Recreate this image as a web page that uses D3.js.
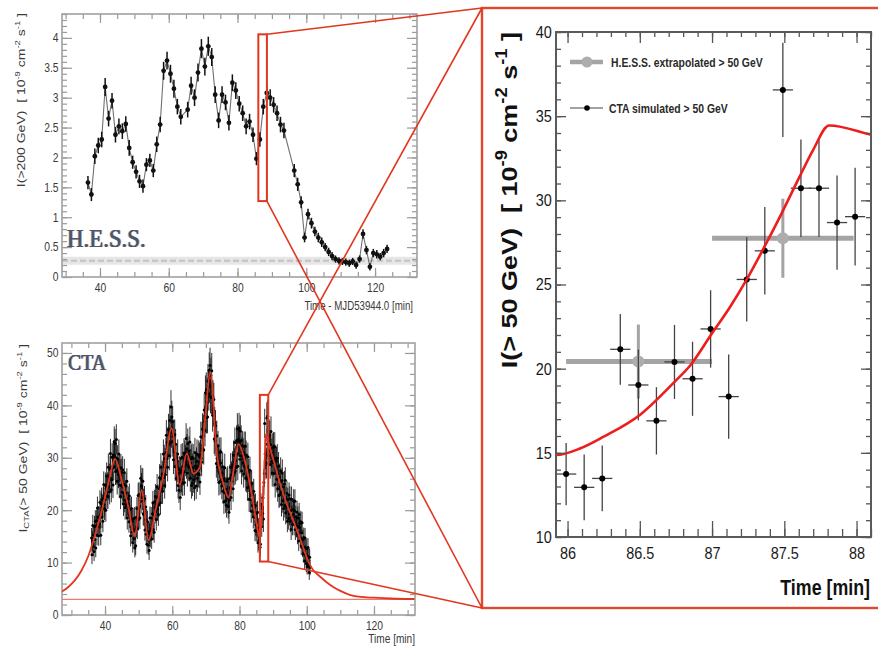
<!DOCTYPE html>
<html>
<head>
<meta charset="utf-8">
<title>Flare light curves: H.E.S.S. and simulated CTA</title>
<script src="https://cdn.jsdelivr.net/npm/d3@7/dist/d3.min.js"></script>
<style>
  html, body { margin: 0; padding: 0; background: #fff; }
  svg { display: block; }
  text { white-space: pre; }
</style>
</head>
<body>
<svg id="fig" width="878" height="647"></svg>
<script>
// ---------------------------------------------------------------
// H.E.S.S. light curve, 1-minute bins, I(>200 GeV) [1e-9 cm^-2 s^-1]
// ---------------------------------------------------------------
const hessTime = [
  36.5, 37.5, 38.5, 39.5, 40.5, 41.5, 42.5, 43.5, 44.5, 45.5, 46.5, 47.5, 48.5, 49.5,
  50.5, 51.5, 52.5, 53.5, 54.5, 55.5, 56.5, 57.5, 58.5, 59.5, 60.5, 61.5, 62.5, 63.5,
  65.5, 66.5, 67.5, 68.5, 69.5, 70.5, 71.5, 72.5, 73.5, 74.5, 75.5, 76.5, 77.5, 78.5, 79.5,
  80.5, 81.5, 82.5, 83.5, 84.5, 85.5, 86.5, 87.5, 88.5, 89.5, 90.5, 91.5, 92.5, 93.5,
  96.5, 97.5, 98.5, 99.5, 100.5, 101.5, 102.5, 103.5, 104.5, 105.5, 106.5, 107.5, 108.5, 109.5,
  110.5, 111.5, 112.5, 113.5, 114.5, 115.5, 116.5, 117.5, 118.5, 119.5, 120.5, 121.5, 122.5, 123.5
];
const hessFlux = [
  1.58, 1.38, 2.02, 2.20, 2.30, 3.18, 2.65, 2.95, 2.38, 2.52, 2.44, 2.56, 2.16, 1.92,
  1.76, 1.60, 1.52, 1.88, 1.95, 1.78, 2.22, 2.55, 3.45, 3.62, 3.40, 3.15, 2.85, 2.68,
  2.80, 3.20, 3.00, 3.42, 3.82, 3.52, 3.86, 3.68, 3.05, 2.62, 3.05, 2.92, 2.58, 3.25, 3.12,
  2.90, 2.74, 2.52, 2.60, 2.38, 1.98, 2.30, 2.85, 3.08, 3.00, 2.88, 2.74, 2.55, 2.45,
  1.78, 1.55, 1.25, 0.66, 1.05, 0.90, 0.76, 0.66, 0.58, 0.50, 0.42, 0.35, 0.30, 0.27,
  0.26, 0.25, 0.23, 0.26, 0.20, 0.30, 0.72, 0.45, 0.17, 0.40, 0.38, 0.34, 0.40, 0.47
];
const hessErr = [
  0.11, 0.11, 0.13, 0.13, 0.13, 0.15, 0.13, 0.13, 0.13, 0.13, 0.13, 0.13, 0.13, 0.11,
  0.11, 0.11, 0.11, 0.11, 0.11, 0.11, 0.13, 0.13, 0.15, 0.15, 0.15, 0.15, 0.13, 0.13,
  0.13, 0.15, 0.14, 0.15, 0.16, 0.15, 0.16, 0.15, 0.14, 0.13, 0.14, 0.13, 0.13, 0.14, 0.14,
  0.13, 0.13, 0.13, 0.13, 0.12, 0.11, 0.12, 0.13, 0.14, 0.14, 0.13, 0.13, 0.13, 0.13,
  0.11, 0.11, 0.10, 0.08, 0.09, 0.09, 0.08, 0.08, 0.08, 0.07, 0.07, 0.07, 0.06, 0.06,
  0.06, 0.06, 0.06, 0.06, 0.06, 0.06, 0.08, 0.07, 0.06, 0.07, 0.07, 0.06, 0.07, 0.07
];
const hessHalfBin = 0.5;
const hessBaseline = 0.27;

// ---------------------------------------------------------------
// Simulated CTA light curve, 7.5 s bins, I(>50 GeV) [1e-9 cm^-2 s^-1]
// one row per minute (8 bins), rows start at 35.99, 36.99, ...
// ---------------------------------------------------------------
const ctaStart = 35.99;
const ctaBin = 0.125;
const ctaXErr = 0.07;
const ctaFluxRows = [
  [14.7, 11.5, 14.1, 17.1, 13.1, 15.2, 12.1, 16.9],
  [14.4, 17.9, 12.8, 17.0, 18.0, 15.2, 20.4, 17.0],
  [18.7, 15.1, 18.6, 17.4, 21.5, 18.6, 15.2, 21.2],
  [22.0, 18.7, 20.8, 17.9, 22.2, 24.9, 21.1, 20.3],
  [22.0, 24.7, 20.0, 24.3, 26.5, 22.7, 24.7, 22.6],
  [28.2, 24.4, 26.4, 23.5, 27.8, 30.8, 26.0, 23.9],
  [25.8, 30.1, 28.2, 24.8, 30.5, 28.3, 33.1, 30.4],
  [32.7, 27.4, 30.0, 33.5, 27.5, 25.5, 29.7, 27.6],
  [26.8, 30.7, 24.8, 28.0, 27.1, 22.6, 28.1, 24.7],
  [27.2, 23.4, 27.7, 24.4, 21.2, 24.9, 27.2, 21.9],
  [20.5, 23.3, 24.6, 21.0, 25.5, 18.5, 21.3, 22.2],
  [21.2, 17.8, 22.7, 18.8, 20.2, 15.1, 18.3, 20.3],
  [15.8, 18.0, 13.8, 18.3, 16.0, 14.6, 18.5, 12.8],
  [16.3, 13.2, 18.6, 16.8, 20.3, 16.5, 18.6, 22.8],
  [18.2, 23.0, 20.8, 18.5, 22.7, 26.1, 21.7, 24.6],
  [25.6, 22.4, 25.5, 19.3, 21.8, 19.1, 22.2, 16.2],
  [18.3, 20.6, 15.4, 18.1, 13.5, 17.8, 15.9, 13.3],
  [15.9, 12.3, 15.5, 18.5, 14.8, 16.1, 18.5, 14.5],
  [16.3, 19.3, 21.4, 16.3, 19.1, 15.8, 21.6, 20.5],
  [22.6, 19.7, 18.2, 22.4, 24.4, 20.2, 22.5, 19.2],
  [21.0, 24.1, 26.2, 23.5, 21.4, 28.2, 26.0, 24.1],
  [26.9, 23.6, 26.7, 30.7, 26.3, 29.8, 24.7, 29.2],
  [26.8, 31.0, 34.3, 29.8, 32.9, 28.2, 32.6, 35.4],
  [33.1, 30.4, 37.1, 35.1, 32.8, 39.7, 34.8, 37.8],
  [33.1, 36.9, 34.1, 29.6, 34.4, 31.1, 34.4, 28.3],
  [32.6, 28.4, 26.1, 30.0, 28.1, 30.7, 24.7, 27.0],
  [23.8, 27.7, 25.7, 22.4, 27.2, 29.9, 25.9, 25.3],
  [30.1, 25.2, 28.4, 27.3, 30.9, 25.3, 30.5, 29.8],
  [29.2, 33.7, 28.7, 31.7, 27.1, 32.7, 30.3, 28.3],
  [31.3, 28.2, 33.0, 26.1, 29.0, 29.8, 24.7, 30.1],
  [25.2, 28.1, 29.9, 25.8, 27.2, 24.3, 31.0, 28.4],
  [27.9, 24.6, 29.3, 30.7, 26.1, 28.0, 27.0, 30.5],
  [26.8, 30.2, 25.4, 30.6, 34.0, 29.9, 29.2, 33.9],
  [35.5, 31.7, 35.2, 31.5, 39.1, 36.9, 35.2, 42.4],
  [37.8, 43.0, 37.7, 42.1, 37.8, 44.6, 43.6, 42.2],
  [46.7, 43.8, 47.6, 41.7, 45.7, 41.5, 46.6, 41.5],
  [38.1, 41.6, 39.1, 41.1, 33.6, 36.7, 33.2, 36.1],
  [34.1, 28.9, 34.2, 29.9, 28.2, 32.3, 29.5, 25.3],
  [28.7, 31.1, 25.5, 29.0, 31.1, 25.9, 24.6, 27.1],
  [28.3, 23.6, 25.6, 21.6, 26.0, 28.1, 23.3, 21.8],
  [24.0, 20.9, 25.5, 22.3, 25.9, 20.7, 23.3, 19.6],
  [21.9, 26.1, 24.3, 28.2, 22.4, 26.7, 25.5, 28.3],
  [28.6, 24.1, 30.5, 27.3, 29.1, 32.9, 27.5, 29.5],
  [28.2, 33.3, 30.7, 35.5, 28.4, 33.5, 33.1, 35.6],
  [33.1, 29.7, 35.1, 30.4, 33.3, 27.5, 31.2, 32.3],
  [29.0, 30.9, 26.9, 32.2, 29.8, 28.4, 32.2, 26.2],
  [30.5, 26.0, 28.1, 24.3, 30.2, 26.1, 27.2, 22.1],
  [24.5, 27.6, 22.0, 25.0, 19.8, 25.1, 23.0, 20.9],
  [23.1, 18.7, 23.6, 19.7, 20.6, 16.1, 20.9, 17.2],
  [16.0, 19.4, 16.8, 19.6, 13.8, 16.5, 14.2, 16.3],
  [13.74, 12.95, 13.48, 21.15, 19.03, 16.9, 20.4, 19.4],
  [22.36, 18.34, 25.3, 27.0, 36.56, 30.72, 30.72, 28.68],
  [29.03, 37.6, 32.6, 37.9, 33.2, 30.4, 34.5, 31.3],
  [34.2, 28.7, 32.5, 35.0, 29.3, 30.9, 27.1, 31.9],
  [29.1, 32.1, 27.0, 29.9, 32.1, 24.9, 29.6, 27.7],
  [29.4, 25.9, 29.9, 24.1, 26.9, 28.4, 22.8, 26.3],
  [23.0, 25.4, 27.5, 23.5, 21.1, 25.6, 27.1, 21.8],
  [24.4, 20.3, 22.7, 25.0, 20.9, 25.7, 19.5, 22.1],
  [20.5, 23.2, 17.9, 22.0, 20.7, 18.4, 22.9, 19.3],
  [22.2, 17.9, 19.9, 16.3, 22.1, 18.7, 17.3, 20.1],
  [19.2, 21.7, 17.3, 19.9, 21.7, 16.3, 18.7, 17.0],
  [16.9, 19.6, 15.5, 18.5, 16.9, 14.1, 19.2, 16.7],
  [17.5, 14.6, 17.8, 13.2, 15.7, 17.6, 12.9, 14.4],
  [11.7, 14.8, 12.9, 10.3, 14.7, 11.6, 12.8, 9.8],
  [12.7, 9.2, 11.2, 12.9, 9.4, 11.0, 8.1, 11.0],
  [9.1]
];
const ctaErrRows = [
  [1.9, 1.8, 1.9, 2.0, 1.9, 1.9, 1.8, 2.0],
  [1.9, 2.1, 1.8, 2.0, 2.1, 1.9, 2.2, 2.0],
  [2.1, 1.9, 2.1, 2.0, 2.3, 2.1, 1.9, 2.2],
  [2.3, 2.1, 2.2, 2.1, 2.3, 2.5, 2.3, 2.2],
  [2.3, 2.5, 2.2, 2.4, 2.6, 2.4, 2.5, 2.4],
  [2.6, 2.5, 2.5, 2.4, 2.6, 2.8, 2.5, 2.4],
  [2.5, 2.7, 2.6, 2.5, 2.7, 2.6, 2.9, 2.7],
  [2.8, 2.6, 2.7, 2.9, 2.6, 2.5, 2.7, 2.6],
  [2.6, 2.8, 2.5, 2.6, 2.6, 2.4, 2.6, 2.5],
  [2.6, 2.4, 2.6, 2.5, 2.3, 2.5, 2.6, 2.3],
  [2.3, 2.4, 2.5, 2.3, 2.5, 2.2, 2.3, 2.3],
  [2.3, 2.1, 2.4, 2.2, 2.2, 2.0, 2.1, 2.3],
  [2.0, 2.1, 1.9, 2.1, 2.0, 1.9, 2.1, 1.8],
  [2.0, 1.8, 2.2, 2.0, 2.2, 2.0, 2.1, 2.4],
  [2.1, 2.4, 2.3, 2.1, 2.4, 2.5, 2.3, 2.5],
  [2.5, 2.4, 2.5, 2.2, 2.3, 2.2, 2.4, 2.0],
  [2.1, 2.3, 2.0, 2.1, 1.8, 2.1, 2.0, 1.8],
  [2.0, 1.8, 2.0, 2.2, 1.9, 2.0, 2.1, 1.9],
  [2.0, 2.2, 2.3, 2.0, 2.2, 2.0, 2.3, 2.3],
  [2.4, 2.2, 2.1, 2.4, 2.5, 2.2, 2.4, 2.2],
  [2.3, 2.5, 2.6, 2.4, 2.3, 2.7, 2.6, 2.5],
  [2.6, 2.4, 2.6, 2.8, 2.6, 2.7, 2.5, 2.7],
  [2.6, 2.8, 2.9, 2.7, 2.9, 2.7, 2.9, 3.0],
  [2.9, 2.8, 3.0, 3.0, 2.9, 3.2, 2.9, 3.1],
  [2.9, 3.0, 2.9, 2.7, 2.9, 2.8, 2.9, 2.7],
  [2.9, 2.7, 2.6, 2.7, 2.7, 2.8, 2.5, 2.6],
  [2.4, 2.6, 2.5, 2.4, 2.6, 2.7, 2.5, 2.5],
  [2.7, 2.5, 2.7, 2.6, 2.8, 2.5, 2.8, 2.7],
  [2.7, 2.9, 2.7, 2.8, 2.6, 2.9, 2.8, 2.7],
  [2.8, 2.7, 2.9, 2.6, 2.7, 2.7, 2.5, 2.7],
  [2.5, 2.7, 2.7, 2.5, 2.6, 2.5, 2.8, 2.7],
  [2.6, 2.5, 2.7, 2.8, 2.6, 2.6, 2.6, 2.8],
  [2.6, 2.7, 2.5, 2.8, 2.9, 2.7, 2.7, 2.9],
  [3.0, 2.8, 3.0, 2.8, 3.1, 3.0, 3.0, 3.3],
  [3.1, 3.3, 3.1, 3.2, 3.1, 3.3, 3.3, 3.2],
  [3.4, 3.3, 3.4, 3.2, 3.4, 3.2, 3.4, 3.2],
  [3.1, 3.2, 3.1, 3.2, 2.9, 3.0, 2.9, 3.0],
  [2.9, 2.7, 2.9, 2.7, 2.7, 2.8, 2.7, 2.5],
  [2.7, 2.8, 2.5, 2.7, 2.8, 2.5, 2.5, 2.6],
  [2.7, 2.4, 2.5, 2.3, 2.5, 2.7, 2.4, 2.3],
  [2.4, 2.3, 2.5, 2.4, 2.5, 2.3, 2.4, 2.2],
  [2.3, 2.6, 2.5, 2.7, 2.4, 2.6, 2.5, 2.7],
  [2.7, 2.5, 2.8, 2.6, 2.7, 2.9, 2.6, 2.7],
  [2.7, 2.9, 2.8, 3.0, 2.7, 2.9, 2.9, 3.0],
  [2.9, 2.7, 3.0, 2.8, 2.9, 2.6, 2.8, 2.8],
  [2.7, 2.8, 2.6, 2.8, 2.7, 2.7, 2.8, 2.6],
  [2.8, 2.6, 2.7, 2.5, 2.7, 2.6, 2.6, 2.4],
  [2.5, 2.6, 2.3, 2.5, 2.2, 2.5, 2.4, 2.3],
  [2.4, 2.2, 2.4, 2.2, 2.3, 2.0, 2.3, 2.1],
  [2.0, 2.2, 2.0, 2.2, 1.9, 2.0, 1.9, 2.0],
  [1.85, 1.95, 1.95, 2.1, 2.1, 2.0, 2.2, 2.2],
  [2.3, 2.5, 2.5, 2.6, 2.8, 2.9, 2.9, 2.8],
  [2.9, 3.0, 2.9, 3.1, 2.9, 2.8, 2.9, 2.8],
  [2.9, 2.7, 2.8, 2.9, 2.7, 2.8, 2.6, 2.8],
  [2.7, 2.8, 2.6, 2.7, 2.8, 2.5, 2.7, 2.6],
  [2.7, 2.5, 2.7, 2.5, 2.6, 2.7, 2.4, 2.6],
  [2.4, 2.5, 2.6, 2.4, 2.3, 2.5, 2.6, 2.3],
  [2.5, 2.3, 2.4, 2.5, 2.3, 2.5, 2.2, 2.4],
  [2.3, 2.4, 2.1, 2.3, 2.3, 2.1, 2.4, 2.2],
  [2.4, 2.1, 2.2, 2.0, 2.4, 2.2, 2.1, 2.2],
  [2.2, 2.3, 2.1, 2.2, 2.3, 2.0, 2.2, 2.1],
  [2.1, 2.2, 2.0, 2.2, 2.1, 1.9, 2.2, 2.0],
  [2.1, 1.9, 2.1, 1.8, 2.0, 2.1, 1.8, 1.9],
  [1.7, 1.9, 1.8, 1.6, 1.9, 1.7, 1.8, 1.6],
  [1.8, 1.5, 1.7, 1.8, 1.5, 1.7, 1.4, 1.7],
  [1.5]
];

// Flare model for I(>50 GeV) and its steady baseline
const modelTime = [
  27, 29, 31, 33, 35, 37, 39, 41, 43, 45, 47, 48.8, 50.9, 52.9, 55.2, 57.3, 59.8, 62.2,
  64.3, 66.3, 68.2, 69.8, 71.3, 73.2, 75.0, 76.7, 78.2, 79.7, 81.6, 83.6, 85.2,
  85.92, 86.09, 86.25, 86.5, 86.73, 86.85, 87.0, 87.12, 87.24, 87.36, 87.48, 87.6, 87.7,
  87.81, 88.1, 90, 92, 94, 96, 98, 100, 101, 102, 104, 106, 108, 110, 113, 116, 120, 125, 132
];
const modelFlux = [
  4.4, 5.3, 6.6, 8.5, 11.2, 15.2, 19.8, 25.2, 29.8, 25.6, 20.4, 15.0, 23.8, 14.3, 20.5, 26.5, 35.6, 24.8,
  30.8, 27.0, 28.2, 37.5, 46.4, 31.0, 25.5, 22.4, 27.5, 32.6, 29.4, 23.2, 17.0,
  14.87, 15.27, 15.96, 17.25, 19.13, 20.2, 22.1, 23.6, 25.3, 27.2, 29.2, 31.3, 33.0,
  34.45, 33.9, 29.8, 25.2, 21.3, 18.0, 14.6, 11.0, 9.5, 8.5, 7.3, 6.2, 5.3, 4.6, 3.8, 3.45, 3.3, 3.15, 3.05
];
const ctaBaseline = 3.0;

// H.E.S.S. points extrapolated above 50 GeV
const extrapTime = [86.49, 87.49];
const extrapFrom = [85.99, 87.0];
const extrapTo   = [87.0, 87.98];
const extrapFlux = [20.42, 27.75];
const extrapErr  = [2.2, 2.35];

// zoomed time window marked on both light curves
const boxTime = [86.05, 88.55];
const hessBoxFlux = [1.27, 4.06];
const ctaBoxFlux = [10.2, 42.0];

// tick labels
const hessXTicks = [40, 60, 80, 100, 120];
const hessYTicks = [0, 0.5, 1, 1.5, 2, 2.5, 3, 3.5, 4];
const ctaXTicks  = [40, 60, 80, 100, 120];
const ctaYTicks  = [0, 10, 20, 30, 40, 50];
const zoomXTicks = [86, 86.5, 87, 87.5, 88];
const zoomYTicks = [10, 15, 20, 25, 30, 35, 40];

// ---------------------------------------------------------------
const ctaFlux = ctaFluxRows.flat();
const ctaErr = ctaErrRows.flat();
const ctaTime = ctaFlux.map((_, i) => ctaStart + i * ctaBin);

const svg = d3.select("#fig");
const SANS = "'Liberation Sans', Arial, Helvetica, sans-serif";
const SERIF = "'Liberation Serif', 'DejaVu Serif', Times, serif";
const RED = "#e3361f";

// coloured fringes for the experiment names
const defs = svg.append("defs");
const fr = defs.append("filter").attr("id", "fringe")
  .attr("x", "-10%").attr("y", "-20%").attr("width", "120%").attr("height", "140%");
fr.append("feDropShadow").attr("dx", -1.2).attr("dy", 0).attr("stdDeviation", 0.3)
  .attr("flood-color", "#e0a050").attr("flood-opacity", 0.8).attr("result", "a");
fr.append("feDropShadow").attr("in", "SourceGraphic").attr("dx", 1.2).attr("dy", 0).attr("stdDeviation", 0.3)
  .attr("flood-color", "#5a9ad6").attr("flood-opacity", 0.8).attr("result", "b");
const fm = fr.append("feMerge");
fm.append("feMergeNode").attr("in", "a");
fm.append("feMergeNode").attr("in", "b");
fm.append("feMergeNode").attr("in", "SourceGraphic");

// text with sub/superscript pieces; sx/sy squeeze the glyphs
function richText(g, x, y, parts, o) {
  const t = g.append("text")
    .attr("transform", `translate(${x},${y}) rotate(${o.rot || 0}) scale(${o.sx || 1},${o.sy || 1})`)
    .attr("font-family", o.family || SANS)
    .attr("font-size", o.size)
    .attr("font-weight", o.weight || "normal")
    .attr("fill", o.fill || "#000")
    .attr("text-anchor", o.anchor || "start");
  if (o.filter) t.attr("filter", o.filter);
  let shift = 0;
  parts.forEach(p => {
    const [s, kind] = Array.isArray(p) ? p : [p, ""];
    const target = kind === "sup" ? -0.42 * o.size : kind === "sub" ? 0.22 * o.size : 0;
    t.append("tspan")
      .attr("dy", target - shift)
      .attr("font-size", kind ? o.size * 0.68 : o.size)
      .text(s);
    shift = target;
  });
  return t;
}

function stepValues(scale, step) {
  const [a, b] = scale.domain();
  return d3.range(Math.ceil(a / step - 1e-6) * step, b + 1e-9, step).map(v => +v.toFixed(4));
}

// frame plus inward ticks on all four sides, labels on left/bottom
function frameAxes(g, x, y, o) {
  const [x0, x1] = x.range();
  const [yb, yt] = y.range();
  const style = (sel, labelled) => {
    sel.select(".domain").remove();
    sel.selectAll(".tick line").attr("stroke", o.tickColor).attr("stroke-width", o.tickWidth);
    if (labelled) {
      sel.selectAll(".tick text")
        .attr("font-family", SANS).attr("font-size", o.fontSize)
        .attr("fill", o.labelColor).attr("transform", `scale(${o.sx},1)`);
    } else {
      sel.selectAll(".tick text").remove();
    }
  };
  const xMinor = stepValues(x, o.xMinor), yMinor = stepValues(y, o.yMinor);
  // bottom
  g.append("g").attr("transform", `translate(0,${yb})`)
    .call(d3.axisBottom(x).tickValues(xMinor).tickSize(-o.xLen[1])).call(s => style(s, false));
  g.append("g").attr("transform", `translate(0,${yb})`)
    .call(d3.axisBottom(x).tickValues(o.xTicks).tickSize(-o.xLen[0]).tickPadding(o.xPad).tickFormat(o.fmtX))
    .call(s => style(s, true));
  // top
  g.append("g").attr("transform", `translate(0,${yt})`)
    .call(d3.axisTop(x).tickValues(xMinor).tickSize(-o.topLen[1])).call(s => style(s, false));
  g.append("g").attr("transform", `translate(0,${yt})`)
    .call(d3.axisTop(x).tickValues(o.xTicks).tickSize(-o.topLen[0])).call(s => style(s, false));
  // left
  g.append("g").attr("transform", `translate(${x0},0)`)
    .call(d3.axisLeft(y).tickValues(yMinor).tickSize(-o.yLen[1])).call(s => style(s, false));
  g.append("g").attr("transform", `translate(${x0},0)`)
    .call(d3.axisLeft(y).tickValues(o.yTicks).tickSize(-o.yLen[0]).tickPadding(o.yPad).tickFormat(o.fmtY))
    .call(s => style(s, true));
  // right
  g.append("g").attr("transform", `translate(${x1},0)`)
    .call(d3.axisRight(y).tickValues(yMinor).tickSize(-o.yLen[1])).call(s => style(s, false));
  g.append("g").attr("transform", `translate(${x1},0)`)
    .call(d3.axisRight(y).tickValues(o.yTicks).tickSize(-o.yLen[0])).call(s => style(s, false));
  // frame
  g.append("rect")
    .attr("x", x0).attr("y", yt).attr("width", x1 - x0).attr("height", yb - yt)
    .attr("fill", "none").attr("stroke", o.frameColor).attr("stroke-width", o.frameWidth);
}

const fmt = d3.format("~g");

// ================= H.E.S.S. panel =================
const xH = d3.scaleLinear().domain([28.95, 132.2]).range([62, 417]);
const yH = d3.scaleLinear().domain([0, 4.4]).range([277, 14]);
const gH = svg.append("g");

gH.append("line")
  .attr("x1", xH.range()[0]).attr("x2", xH.range()[1])
  .attr("y1", yH(hessBaseline)).attr("y2", yH(hessBaseline))
  .attr("stroke", "#e6e6e6").attr("stroke-width", 8);
gH.append("line")
  .attr("x1", xH.range()[0]).attr("x2", xH.range()[1])
  .attr("y1", yH(hessBaseline)).attr("y2", yH(hessBaseline))
  .attr("stroke", "#c8c8c8").attr("stroke-width", 2.5).attr("stroke-dasharray", "6,3");

frameAxes(gH, xH, yH, {
  xTicks: hessXTicks, yTicks: hessYTicks, xMinor: 5, yMinor: 0.1,
  xLen: [9, 5], topLen: [9, 5], yLen: [10, 5], xPad: 6, yPad: 4,
  fmtX: fmt, fmtY: fmt, fontSize: 12, sx: 0.86, labelColor: "#3a3a3a",
  tickColor: "#9a9a9a", tickWidth: 1.2, frameColor: "#a0a0a0", frameWidth: 1.6
});

const hessPts = hessTime.map((t, i) => ({ t, f: hessFlux[i], e: hessErr[i] }));
gH.append("path").datum(hessPts)
  .attr("fill", "none").attr("stroke", "#707070").attr("stroke-width", 1.1)
  .attr("d", d3.line().x(d => xH(d.t)).y(d => yH(d.f)));
const hp = gH.append("g").selectAll("g").data(hessPts).join("g");
hp.append("line")
  .attr("x1", d => xH(d.t)).attr("x2", d => xH(d.t))
  .attr("y1", d => yH(d.f - d.e)).attr("y2", d => yH(d.f + d.e))
  .attr("stroke", "#111").attr("stroke-width", 1.5);
hp.append("line")
  .attr("x1", d => xH(d.t - hessHalfBin)).attr("x2", d => xH(d.t + hessHalfBin))
  .attr("y1", d => yH(d.f)).attr("y2", d => yH(d.f))
  .attr("stroke", "#111").attr("stroke-width", 1.5);
hp.append("circle")
  .attr("cx", d => xH(d.t)).attr("cy", d => yH(d.f)).attr("r", 2.4).attr("fill", "#111");

richText(gH, 67, 247, ["H.E.S.S."], { size: 26, family: SERIF, sx: 0.88, fill: "#4e566c", filter: "url(#fringe)" });

richText(gH, 25, 13, ["I(>200 GeV)  [ 10", ["-9", "sup"], " cm", ["-2", "sup"], " s", ["-1", "sup"], " ]"],
  { size: 14, rot: -90, sy: 0.8, anchor: "end", fill: "#3a3a3a" });
richText(gH, 413, 310, ["Time - MJD53944.0 [min]"],
  { size: 12, sx: 0.81, anchor: "end", fill: "#3a3a3a" });

// ================= CTA panel =================
const xC = d3.scaleLinear().domain([27.2, 132.2]).range([62, 415]);
const yC = d3.scaleLinear().domain([0, 51.9]).range([615, 343]);
const gC = svg.append("g");

frameAxes(gC, xC, yC, {
  xTicks: ctaXTicks, yTicks: ctaYTicks, xMinor: 5, yMinor: 2,
  xLen: [9, 5], topLen: [9, 5], yLen: [10, 5], xPad: 6, yPad: 4,
  fmtX: fmt, fmtY: fmt, fontSize: 12, sx: 0.86, labelColor: "#3a3a3a",
  tickColor: "#9a9a9a", tickWidth: 1.2, frameColor: "#a0a0a0", frameWidth: 1.6
});

svg.append("clipPath").attr("id", "clipC").append("rect")
  .attr("x", 62).attr("y", 343).attr("width", 353).attr("height", 272);

const ctaPts = ctaTime.map((t, i) => ({ t, f: ctaFlux[i], e: ctaErr[i] }));
const cp = gC.append("g");
cp.selectAll("line.v").data(ctaPts).join("line").attr("class", "v")
  .attr("x1", d => xC(d.t)).attr("x2", d => xC(d.t))
  .attr("y1", d => yC(d.f - d.e)).attr("y2", d => yC(d.f + d.e))
  .attr("stroke", "#000").attr("stroke-opacity", 0.8).attr("stroke-width", 1);
cp.selectAll("line.h").data(ctaPts).join("line").attr("class", "h")
  .attr("x1", d => xC(d.t - ctaXErr)).attr("x2", d => xC(d.t + ctaXErr))
  .attr("y1", d => yC(d.f)).attr("y2", d => yC(d.f))
  .attr("stroke", "#000").attr("stroke-width", 1);
cp.selectAll("circle").data(ctaPts).join("circle")
  .attr("cx", d => xC(d.t)).attr("cy", d => yC(d.f)).attr("r", 1.5)
  .attr("fill", "#000");

const modelPts = modelTime.map((t, i) => ({ t, f: modelFlux[i] }));
gC.append("line")
  .attr("x1", xC.range()[0]).attr("x2", xC.range()[1])
  .attr("y1", yC(ctaBaseline)).attr("y2", yC(ctaBaseline))
  .attr("stroke", "#f07a70").attr("stroke-width", 1.3);
gC.append("path").datum(modelPts).attr("clip-path", "url(#clipC)")
  .attr("fill", "none").attr("stroke", RED).attr("stroke-width", 1.8)
  .attr("d", d3.line().curve(d3.curveMonotoneX).x(d => xC(d.t)).y(d => yC(d.f)));

richText(gC, 68, 370, ["CTA"], { size: 24, family: SERIF, sx: 0.83, fill: "#4e566c", filter: "url(#fringe)" });

richText(gC, 27, 344, ["I", ["CTA", "sub"], "(> 50 GeV)  [ 10", ["-9", "sup"], " cm", ["-2", "sup"], " s", ["-1", "sup"], " ]"],
  { size: 14, rot: -90, sy: 0.8, anchor: "end", fill: "#3a3a3a" });
richText(gC, 415, 643, ["Time [min]"], { size: 12, sx: 0.84, anchor: "end", fill: "#3a3a3a" });

// ================= zoomed panel =================
const xZ = d3.scaleLinear().domain([85.92, 88.1]).range([556, 871]);
const yZ = d3.scaleLinear().domain([10, 40]).range([537, 32]);
const gZ = svg.append("g");

svg.append("clipPath").attr("id", "clipZ").append("rect")
  .attr("x", 556).attr("y", 32).attr("width", 315).attr("height", 505);

const inZ = d => d.t >= xZ.domain()[0] && d.t <= xZ.domain()[1];
const plotZ = gZ.append("g").attr("clip-path", "url(#clipZ)");

// extrapolated H.E.S.S. flux
const ex = extrapTime.map((t, i) => ({ t, a: extrapFrom[i], b: extrapTo[i], f: extrapFlux[i], e: extrapErr[i] }));
const exg = plotZ.append("g").selectAll("g").data(ex).join("g");
exg.append("line")
  .attr("x1", d => xZ(d.a)).attr("x2", d => xZ(d.b))
  .attr("y1", d => yZ(d.f)).attr("y2", d => yZ(d.f))
  .attr("stroke", "#a4a4a4").attr("stroke-width", 5);
exg.append("line")
  .attr("x1", d => xZ(d.t)).attr("x2", d => xZ(d.t))
  .attr("y1", d => yZ(d.f - d.e)).attr("y2", d => yZ(d.f + d.e))
  .attr("stroke", "#a4a4a4").attr("stroke-width", 3);
exg.append("circle")
  .attr("cx", d => xZ(d.t)).attr("cy", d => yZ(d.f)).attr("r", 6).attr("fill", "#adadad");

// simulated CTA points inside the window
const zp = plotZ.append("g").selectAll("g").data(ctaPts.filter(inZ)).join("g");
zp.append("line")
  .attr("x1", d => xZ(d.t)).attr("x2", d => xZ(d.t))
  .attr("y1", d => yZ(d.f - d.e)).attr("y2", d => yZ(d.f + d.e))
  .attr("stroke", "#444").attr("stroke-width", 1.3);
zp.append("line")
  .attr("x1", d => xZ(d.t - ctaXErr)).attr("x2", d => xZ(d.t + ctaXErr))
  .attr("y1", d => yZ(d.f)).attr("y2", d => yZ(d.f))
  .attr("stroke", "#444").attr("stroke-width", 1.3);
zp.append("circle")
  .attr("cx", d => xZ(d.t)).attr("cy", d => yZ(d.f)).attr("r", 3).attr("fill", "#000");

plotZ.append("path").datum(modelPts)
  .attr("fill", "none").attr("stroke", "#ee1c1c").attr("stroke-width", 2.6)
  .attr("d", d3.line().curve(d3.curveMonotoneX).x(d => xZ(d.t)).y(d => yZ(d.f)));

frameAxes(gZ, xZ, yZ, {
  xTicks: zoomXTicks, yTicks: zoomYTicks, xMinor: 0.1, yMinor: 1,
  xLen: [16, 8], topLen: [11, 5], yLen: [10, 5], xPad: 10, yPad: 5,
  fmtX: fmt, fmtY: fmt, fontSize: 17, sx: 0.85, labelColor: "#1a1a1a",
  tickColor: "#555", tickWidth: 1.3, frameColor: "#5a5a5a", frameWidth: 2
});

// legend
const lg = gZ.append("g");
lg.append("line").attr("x1", 570).attr("x2", 603).attr("y1", 62).attr("y2", 62)
  .attr("stroke", "#a4a4a4").attr("stroke-width", 4.5);
lg.append("circle").attr("cx", 587).attr("cy", 62).attr("r", 5.5).attr("fill", "#adadad");
richText(lg, 611, 67, ["H.E.S.S. extrapolated > 50 GeV"], { size: 13, weight: "bold", sx: 0.8, fill: "#2a2a2a" });
lg.append("line").attr("x1", 570).attr("x2", 603).attr("y1", 108).attr("y2", 108)
  .attr("stroke", "#444").attr("stroke-width", 1.2);
lg.append("circle").attr("cx", 587).attr("cy", 108).attr("r", 2.8).attr("fill", "#000");
richText(lg, 609, 113, ["CTA simulated > 50 GeV"], { size: 13, weight: "bold", sx: 0.8, fill: "#2a2a2a" });

richText(gZ, 517, 32, ["I(> 50 GeV)  [ 10", ["-9", "sup"], " cm", ["-2", "sup"], " s", ["-1", "sup"], " ]"],
  { size: 27, weight: "bold", rot: -90, sy: 0.85, anchor: "end", fill: "#111" });
richText(gZ, 870, 595, ["Time [min]"], { size: 22, weight: "bold", sx: 0.81, anchor: "end", fill: "#111" });

// ================= zoom boxes and connectors =================
const gL = svg.append("g");
const zoomFrame = { x: 482, top: 8, bottom: 608 };
gL.append("rect")
  .attr("x", zoomFrame.x).attr("y", zoomFrame.top).attr("width", 420).attr("height", zoomFrame.bottom - zoomFrame.top)
  .attr("fill", "none").attr("stroke", "#e2462c").attr("stroke-width", 2.4);

const boxes = [
  { x: xH, y: yH, f: hessBoxFlux },
  { x: xC, y: yC, f: ctaBoxFlux }
];
boxes.forEach(b => {
  const bx0 = b.x(boxTime[0]), bx1 = b.x(boxTime[1]);
  const byT = b.y(b.f[1]), byB = b.y(b.f[0]);
  gL.append("rect").attr("x", bx0).attr("y", byT).attr("width", bx1 - bx0).attr("height", byB - byT)
    .attr("fill", "none").attr("stroke", RED).attr("stroke-width", 2);
  gL.append("line").attr("x1", bx1).attr("y1", byT).attr("x2", zoomFrame.x).attr("y2", zoomFrame.top)
    .attr("stroke", RED).attr("stroke-width", 1.6);
  gL.append("line").attr("x1", bx1).attr("y1", byB).attr("x2", zoomFrame.x).attr("y2", zoomFrame.bottom)
    .attr("stroke", RED).attr("stroke-width", 1.6);
});
</script>
</body>
</html>
